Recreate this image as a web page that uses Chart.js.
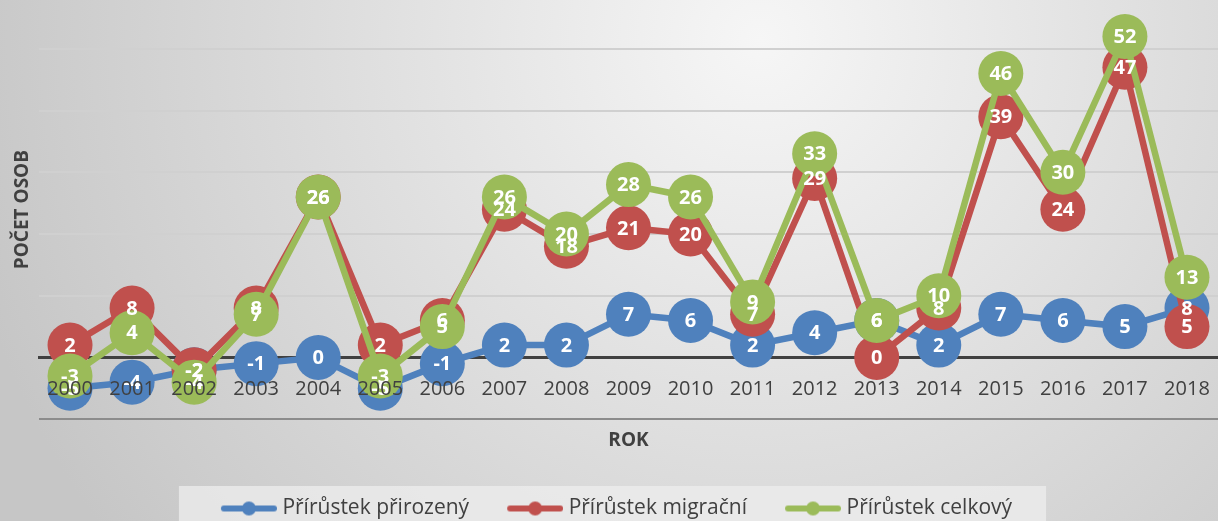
<!DOCTYPE html>
<html><head><meta charset="utf-8">
<script src="https://cdn.jsdelivr.net/npm/chart.js@4/dist/chart.umd.min.js"></script>
<style>html,body{margin:0;padding:0;background:#d8d8d8;}#wrap{width:1218px;height:521px;}</style>
</head><body><div id="wrap"><canvas id="c" width="1218" height="521"></canvas></div>
<script>
const years = ['2000','2001','2002','2003','2004','2005','2006','2007','2008','2009','2010','2011','2012','2013','2014','2015','2016','2017','2018'];
const prirozeny = [-5,-4,-2,-1,0,-5,-1,2,2,7,6,2,4,6,2,7,6,5,8];
const migracni  = [2,8,-2,8,26,2,6,24,18,21,20,7,29,0,8,39,24,47,5];
const celkovy   = [-3,4,-4,7,26,-3,5,26,20,28,26,9,33,6,10,46,30,52,13];
const seriesNames = ['Přírůstek přirozený','Přírůstek migrační','Přírůstek celkový'];
const colors = ['#4F81BD','#C0504D','#9BBB59'];

function legendIcon(color, total){
  const c = document.createElement('canvas');
  c.width = total; c.height = 16;
  const g = c.getContext('2d');
  const x0 = total - 56;
  g.strokeStyle = color; g.lineWidth = 6; g.lineCap = 'round';
  g.beginPath(); g.moveTo(x0+3, 8); g.lineTo(x0+53, 8); g.stroke();
  g.fillStyle = color; g.beginPath(); g.arc(x0+28, 8, 7, 0, Math.PI*2); g.fill();
  return c;
}
const LP = 10, BW = 89 - LP;
const icons = colors.map(c => legendIcon(c, BW + 10));

const bgPlugin = {
  id: 'bg',
  afterLayout(chart){
    const lg = chart.legend;
    if (lg) { lg.left -= 8; lg.right -= 8; }
  },
  beforeDraw(chart){
    const ctx = chart.ctx, w = chart.width, h = chart.height;
    ctx.save();
    const g = ctx.createRadialGradient(760, 40, 0, 760, 40, 820);
    g.addColorStop(0, '#f6f6f6');
    g.addColorStop(1, '#c6c6c6');
    ctx.fillStyle = g; ctx.fillRect(0, 0, w, h);
    const lg = chart.legend;
    if (lg && lg.legendHitBoxes && lg.legendHitBoxes.length){
      const hb = lg.legendHitBoxes;
      const l = Math.min(...hb.map(b => b.left)) + BW - 51 - 42;
      const r = Math.max(...hb.map(b => b.left + b.width)) + 34;
      ctx.fillStyle = 'rgba(238,238,238,0.75)';
      ctx.fillRect(l, 486, r - l, h - 486);
    }
    ctx.restore();
  }
};

const labelPlugin = {
  id: 'vlabels',
  afterDatasetsDraw(chart){
    const ctx = chart.ctx;
    ctx.save();
    ctx.fillStyle = '#ffffff';
    ctx.font = 'bold 20px "Open Sans"';
    ctx.textAlign = 'center';
    ctx.textBaseline = 'middle';
    chart.data.datasets.forEach((ds, i) => {
      const meta = chart.getDatasetMeta(i);
      meta.data.forEach((pt, j) => {
        ctx.fillText(String(ds.data[j]), pt.x, pt.y + 1);
      });
    });
    ctx.restore();
  }
};

const mk = (i, data, order) => ({
  label: seriesNames[i], data, order,
  borderColor: colors[i], backgroundColor: colors[i],
  pointBackgroundColor: colors[i], pointBorderColor: colors[i],
  borderWidth: 6.5, pointRadius: 22.5, pointHoverRadius: 22.5, pointBorderWidth: 0,
  tension: 0, clip: false
});

const zeroPad = s => { s.paddingLeft = 0; s.paddingRight = 0; s.paddingTop = 0; s.paddingBottom = 0; };

new Chart(document.getElementById('c'), {
  type: 'line',
  data: {
    labels: years,
    datasets: [mk(0, prirozeny, 2), mk(1, migracni, 1), mk(2, celkovy, 0)]
  },
  plugins: [bgPlugin, labelPlugin],
  options: {
    responsive: false, animation: false,
    layout: { autoPadding: false, padding: { left: 0, right: -3, top: 0, bottom: -8 } },
    events: [],
    scales: {
      y: {
        min: -10, max: 57.9,
        afterFit(s){ s.width = 39; zeroPad(s); },
        ticks: { display: false, stepSize: 10 },
        border: { display: false },
        grid: {
          drawTicks: false,
          color: c => { const v = c.tick && c.tick.value; if (v === -10) return '#8c8c8c'; if (v === 0) return 'rgba(0,0,0,0)'; return (Math.abs(v % 10) < 1e-6) ? '#d0d0d0' : 'rgba(0,0,0,0)'; },
          lineWidth: 2
        },
        title: { display: true, text: 'POČET OSOB', color: '#404040', font: { family: 'Open Sans', size: 19, weight: 'bold' }, padding: { top: 11, bottom: 0 } }
      },
      x: {
        type: 'category', offset: true,
        position: { y: 0 },
        afterFit: zeroPad,
        grid: { display: false, drawTicks: false },
        border: { display: true, color: '#404040', width: 3, z: 0 },
        ticks: { z: 1, color: '#404040', font: { family: 'Open Sans', size: 20 }, padding: 20, maxRotation: 0, autoSkip: false }
      }
    },
    plugins: {
      tooltip: { enabled: false },
      title: { display: true, text: 'ROK', position: 'bottom', fullSize: false, weight: 500, color: '#404040', font: { family: 'Open Sans', size: 19, weight: 'bold' }, padding: { top: 10, bottom: 36 } },
      legend: {
        position: 'bottom', weight: 1000,
        labels: {
          usePointStyle: true, pointStyleWidth: BW, padding: LP,
          color: '#404040', font: { family: 'Open Sans', size: 21 },
          generateLabels: () => seriesNames.map((n, i) => ({ text: n, fillStyle: colors[i], strokeStyle: colors[i], lineWidth: 0, pointStyle: icons[i], datasetIndex: i, hidden: false, fontColor: '#404040' }))
        }
      }
    }
  }
});
</script></body></html>
